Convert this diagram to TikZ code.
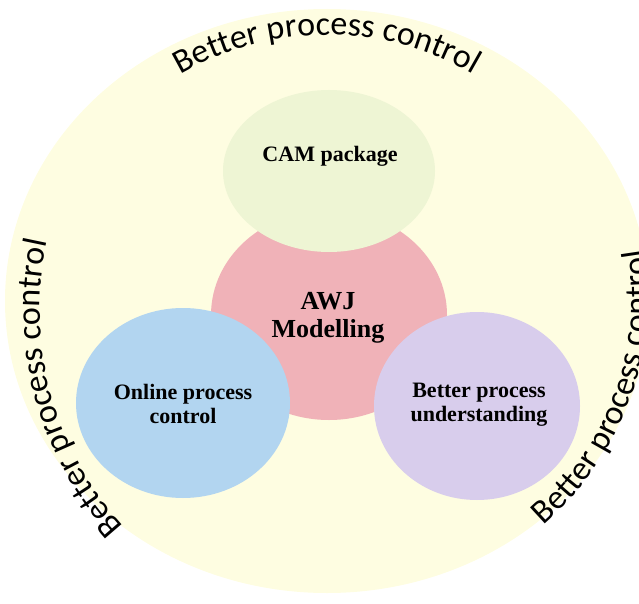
\documentclass[tikz,border=0pt]{standalone}
\usepackage{fontspec}
\setmainfont{Liberation Serif}
\newfontfamily\arcfont{Carlito}
\usetikzlibrary{decorations.text,shapes.geometric}
\definecolor{bgyellow}{RGB}{254,253,225}
\definecolor{camgreen}{RGB}{238,245,212}
\definecolor{awjpink}{RGB}{240,178,184}
\definecolor{onlblue}{RGB}{178,213,240}
\definecolor{bpupurple}{RGB}{216,205,236}
\begin{document}
\begin{tikzpicture}[x=1pt,y=1pt,
  blob/.style={ellipse, draw=none, inner sep=0pt},
  lbl/.style={font=\fontsize{22}{24}\selectfont\bfseries, align=center, inner sep=0pt, text=black},
  arctext/.style={decorate, decoration={text along path, text align=center,
    text={|\arcfont\fontsize{34}{34}\selectfont|Better process control}}}]
\useasboundingbox (0,0) rectangle (639,-604);
% outer background
\node[blob, fill=bgyellow, minimum width=644pt, minimum height=584pt] (bg) at (327,-301) {};
% circles
\node[blob, fill=awjpink, minimum width=236pt, minimum height=210pt] (awj) at (329,-315) {};
\node[blob, fill=camgreen, minimum width=212pt, minimum height=162pt] (cam) at (329,-171) {};
\node[blob, fill=onlblue, minimum width=214pt, minimum height=190pt] (onl) at (183,-403) {};
\node[blob, fill=bpupurple, minimum width=206pt, minimum height=188pt] (bpu) at (477,-406) {};
% labels
\node[lbl] (camt) at (330,-156) {CAM package};
\node[lbl, font=\fontsize{26}{28}\selectfont\bfseries] (awjt) at (328,-318) {AWJ\\Modelling};
\node[lbl] (onlt) at (183,-404) {Online process\\control};
\node[lbl] (bput) at (479,-405) {Better process\\understanding};
% curved texts
\coordinate (tc) at (327,-325);
\coordinate (lc) at (361,-310);
\coordinate (rc) at (346,-297);
\path[arctext] ([shift={(155:290pt)}]tc) arc[start angle=155, end angle=25, radius=290pt];
\path[arctext] ([shift={(255:321pt)}]lc) arc[start angle=255, end angle=135, radius=321pt];
\path[arctext] ([shift={(-80:302pt)}]rc) arc[start angle=-80, end angle=40, radius=302pt];
\end{tikzpicture}
\end{document}
